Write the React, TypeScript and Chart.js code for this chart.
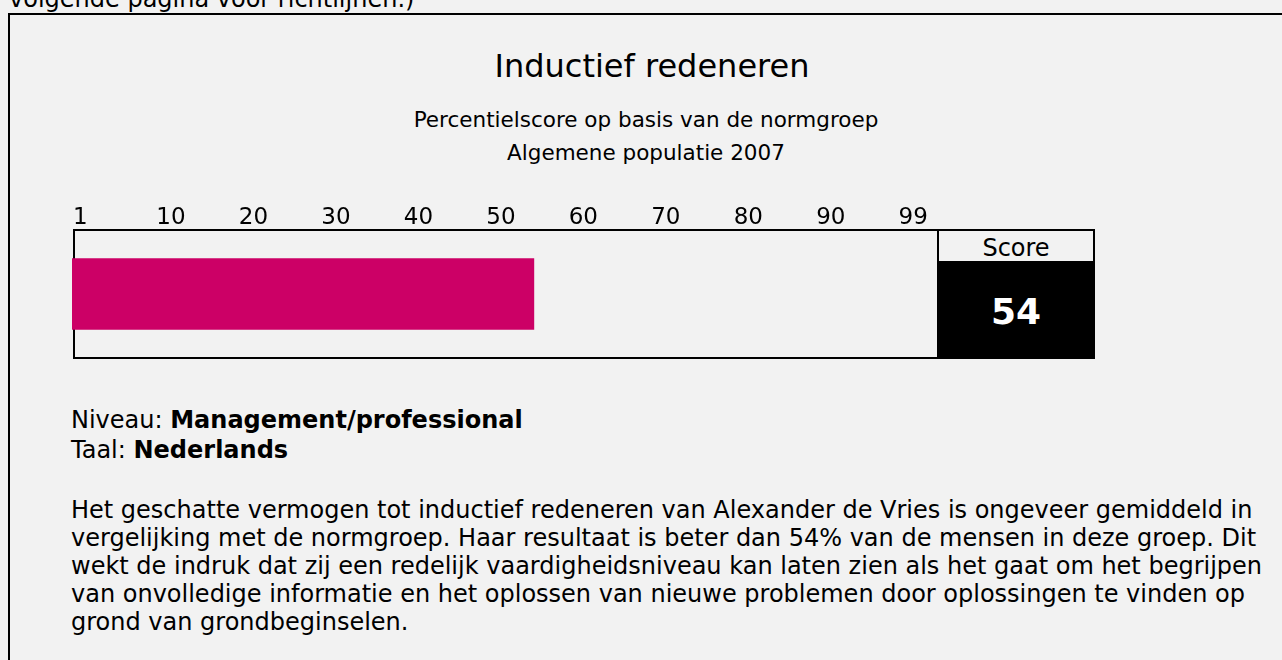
import React, { useEffect, useRef } from "react";
import { Chart, registerables } from "chart.js";

Chart.register(...registerables);

// ---- data ----
const CATEGORIES = ["Inductief redeneren"];
const SCORES = [54];
const TICK_VALUES = [-1, 10, 20, 30, 40, 50, 60, 70, 80, 90, 100];
const TICK_LABELS = ["1", "10", "20", "30", "40", "50", "60", "70", "80", "90", "99"];
const AXIS_MIN = -2;
const AXIS_MAX = 103;

const TITLE = "Inductief redeneren";
const SUBTITLE_LINES = ["Percentielscore op basis van de normgroep", "Algemene populatie 2007"];
const NIVEAU = "Management/professional";
const TAAL = "Nederlands";
const TOP_CUT_TEXT = "volgende pagina voor richtlijnen.)";

const BAR_COLOR = "#cc0066";
const BG = "#f2f2f2";
const FONT = "'DejaVu Sans', Verdana, sans-serif";

const boxPlugin = {
  id: "boxPlugin",
  beforeDatasetsDraw(chart: any) {
    const { ctx, chartArea } = chart;
    const { left, right, top, bottom } = chartArea;
    ctx.save();
    ctx.strokeStyle = "#000";
    ctx.lineWidth = 2;
    ctx.strokeRect(left + 2, top, right - left - 2, bottom - top);
    ctx.restore();
  },
};

function BarChart() {
  const ref = useRef<HTMLCanvasElement | null>(null);
  useEffect(() => {
    if (!ref.current) return;
    const chart = new Chart(ref.current, {
      type: "bar",
      data: {
        labels: CATEGORIES,
        datasets: [
          {
            data: SCORES,
            backgroundColor: BAR_COLOR,
            base: AXIS_MIN,
            barThickness: 71,
            borderWidth: 0,
          } as any,
        ],
      },
      options: {
        indexAxis: "y",
        animation: false,
        responsive: false,
        maintainAspectRatio: false,
        layout: { padding: { left: 72, right: 22, top: 16.4, bottom: 22 } },
        plugins: {
          legend: { display: false },
          tooltip: { enabled: false },
          title: { display: false },
        },
        scales: {
          x: {
            type: "linear",
            position: "top",
            min: AXIS_MIN,
            max: AXIS_MAX,
            afterBuildTicks: (scale: any) => {
              scale.ticks = TICK_VALUES.map((v) => ({ value: v }));
            },
            ticks: {
              autoSkip: false,
              maxRotation: 0,
              padding: -2,
              color: "#000",
              font: { family: FONT, size: 23 },
              callback: (_v: any, i: number) => TICK_LABELS[i],
            },
            grid: { display: false, drawTicks: false },
            border: { display: false },
          },
          y: { display: false },
        },
      } as any,
      plugins: [boxPlugin],
    });
    return () => chart.destroy();
  }, []);
  return (
    <canvas
      ref={ref}
      width={960}
      height={190}
      style={{ position: "absolute", left: 0, top: 190, width: 960, height: 190 }}
    />
  );
}

export default function App() {
  const score = SCORES[0];
  return (
    <div
      style={{
        position: "fixed",
        left: 0,
        top: 0,
        width: 1282,
        height: 660,
        overflow: "hidden",
        background: BG,
        fontFamily: FONT,
        color: "#000",
      }}
    >
      <div
        style={{
          position: "absolute",
          left: 9,
          top: -16,
          fontSize: 24,
          lineHeight: "30px",
          whiteSpace: "nowrap",
        }}
      >
        {TOP_CUT_TEXT}
      </div>
      <div
        style={{
          position: "absolute",
          left: 8,
          top: 13,
          width: 1400,
          height: 800,
          border: "2px solid #000",
          boxSizing: "border-box",
        }}
      />
      <div
        style={{
          position: "absolute",
          left: 452,
          top: 46,
          width: 400,
          textAlign: "center",
          fontSize: 32,
          lineHeight: "40px",
          whiteSpace: "nowrap",
        }}
      >
        {TITLE}
      </div>
      <div
        style={{
          position: "absolute",
          left: 346,
          top: 103,
          width: 600,
          textAlign: "center",
          fontSize: 21.5,
          lineHeight: "33px",
          whiteSpace: "nowrap",
        }}
      >
        {SUBTITLE_LINES.map((l, i) => (
          <div key={i}>{l}</div>
        ))}
      </div>

      <BarChart />

      <div
        style={{
          position: "absolute",
          left: 937,
          top: 229,
          width: 158,
          height: 130,
          border: "2px solid #000",
          boxSizing: "border-box",
          background: "#000",
        }}
      >
        <div
          style={{
            height: 30,
            background: BG,
            textAlign: "center",
            fontSize: 24,
            lineHeight: "34px",
            overflow: "visible",
            whiteSpace: "nowrap",
          }}
        >
          Score
        </div>
        <div
          style={{
            height: 96,
            textAlign: "center",
            color: "#fff",
            fontWeight: "bold",
            fontSize: 36,
            lineHeight: "101px",
            overflow: "hidden",
          }}
        >
          {score}
        </div>
      </div>

      <div
        style={{
          position: "absolute",
          left: 71,
          top: 405,
          fontSize: 24,
          lineHeight: "30px",
          whiteSpace: "nowrap",
        }}
      >
        <div>
          Niveau: <b>{NIVEAU}</b>
        </div>
        <div>
          Taal: <b>{TAAL}</b>
        </div>
      </div>

      <div
        style={{
          position: "absolute",
          left: 71,
          top: 496,
          fontSize: 24,
          lineHeight: "28px",
          whiteSpace: "nowrap",
        }}
      >
        <div>Het geschatte vermogen tot inductief redeneren van Alexander de Vries is ongeveer gemiddeld in</div>
        <div>
          vergelijking met de normgroep. Haar resultaat is beter dan {score}% van de mensen in deze groep. Dit
        </div>
        <div>wekt de indruk dat zij een redelijk vaardigheidsniveau kan laten zien als het gaat om het begrijpen</div>
        <div>van onvolledige informatie en het oplossen van nieuwe problemen door oplossingen te vinden op</div>
        <div>grond van grondbeginselen.</div>
      </div>
    </div>
  );
}
